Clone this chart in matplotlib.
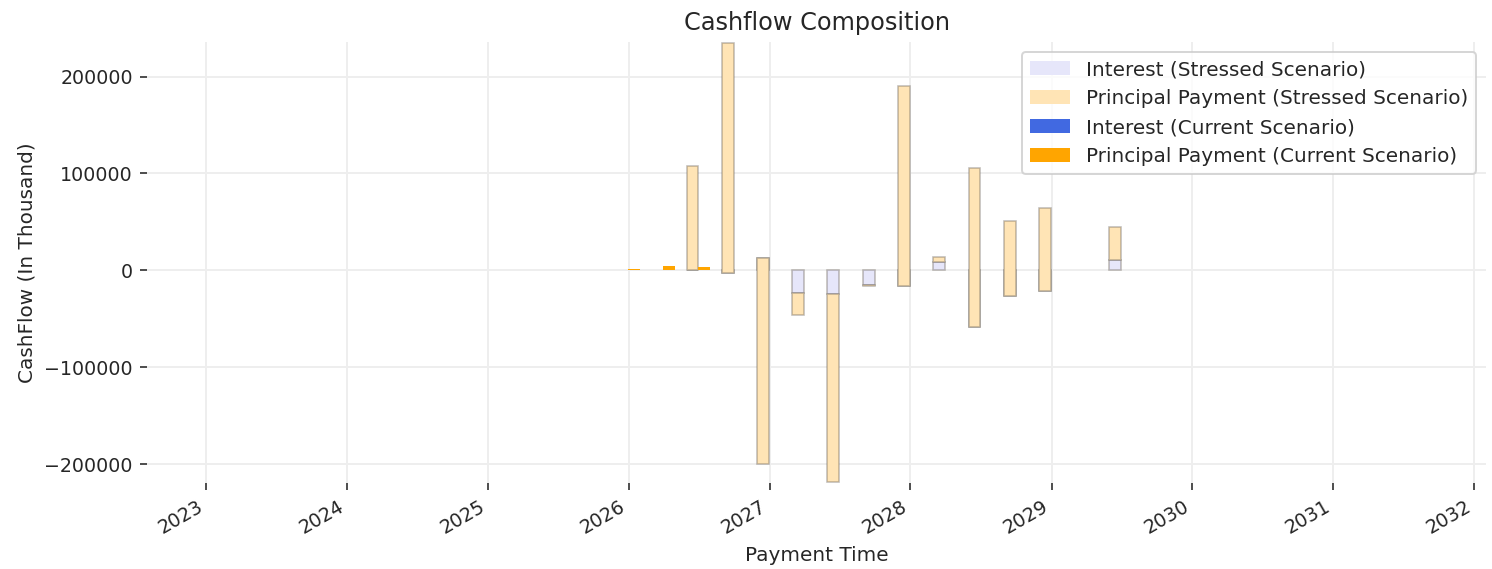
import matplotlib
matplotlib.use("Agg")
import matplotlib.pyplot as plt
import matplotlib.dates as mdates
import numpy as np
import pandas as pd

# ---- data (in thousand) ----
stressed_dates = ["2026-06-15", "2026-09-15", "2026-12-15", "2027-03-15", "2027-06-15",
                  "2027-09-15", "2027-12-15", "2028-03-15", "2028-06-15", "2028-09-15",
                  "2028-12-15", "2029-06-15"]
stressed_interest = [0, -2400, 12500, -23400, -24700, -15500, -16500, 8200, -58700, -26000, -21600, 11000]
stressed_principal = [107800, 237400, -212500, -23200, -193800, -800, 206900, 5700, 164000, 76700, 86100, 34000]

current_dates = ["2026-01-15", "2026-04-15", "2026-07-15"]
current_interest = [0, 0, 0]
current_principal = [1700, 4500, 3000]

legend_labels = ["Interest (Stressed Scenario)", "Principal Payment (Stressed Scenario)",
                 "Interest (Current Scenario)", "Principal Payment (Current Scenario)"]

# ---- figure ----
plt.rcParams['font.family'] = ['DejaVu Sans']
plt.rcParams['text.color'] = '#262626'
plt.rcParams['axes.labelcolor'] = '#262626'
plt.rcParams['xtick.color'] = '#262626'
plt.rcParams['ytick.color'] = '#262626'
fig = plt.figure(figsize=(1492 / 144, 569 / 144), dpi=144)
ax = fig.add_axes([147 / 1492, 1 - 483 / 569, (1486 - 147) / 1492, (483 - 42) / 569])

sd = pd.to_datetime(stressed_dates)
cd = pd.to_datetime(current_dates)
si = np.array(stressed_interest, dtype=float)
sp = np.array(stressed_principal, dtype=float)
ci = np.array(current_interest, dtype=float)
cp = np.array(current_principal, dtype=float)

width = 30
edge = (0.45, 0.42, 0.38, 0.45)
ax.bar(sd, si, width=width, color="lavender", edgecolor=edge, linewidth=0.8,
       label=legend_labels[0], zorder=2)
ax.bar(sd, sp, width=width, bottom=si, color="moccasin", edgecolor=edge, linewidth=0.8,
       label=legend_labels[1], zorder=2)
ax.bar(cd, ci, width=width, color="royalblue", linewidth=0,
       label=legend_labels[2], zorder=3)
ax.bar(cd, cp, width=width, bottom=ci, color="orange", linewidth=0,
       label=legend_labels[3], zorder=3)

ax.set_xlim(pd.Timestamp("2022-08-01"), pd.Timestamp("2032-02-01"))
ax.set_ylim(-219500, 235700)
ax.set_yticks([-200000, -100000, 0, 100000, 200000])

ax.xaxis.set_major_locator(mdates.YearLocator())
ax.xaxis.set_major_formatter(mdates.DateFormatter("%Y"))
for lbl in ax.get_xticklabels():
    lbl.set_rotation(30)
    lbl.set_ha("right")

ax.tick_params(axis="both", labelsize=9.5, length=3.5, width=0.8)
ax.grid(True, color="#eeeeee", linewidth=1.0, zorder=0)
ax.set_axisbelow(True)
for s in ax.spines.values():
    s.set_visible(False)

ax.set_title("Cashflow Composition", fontsize=12)
ax.set_xlabel("Payment Time", fontsize=10)
ax.set_ylabel("CashFlow (In Thousand)", fontsize=10)

leg = ax.legend(loc="upper right", fontsize=10)
for h in leg.legend_handles:
    h.set_linewidth(0)
    h.set_edgecolor("none")

fig.savefig("out.png", dpi=144)
